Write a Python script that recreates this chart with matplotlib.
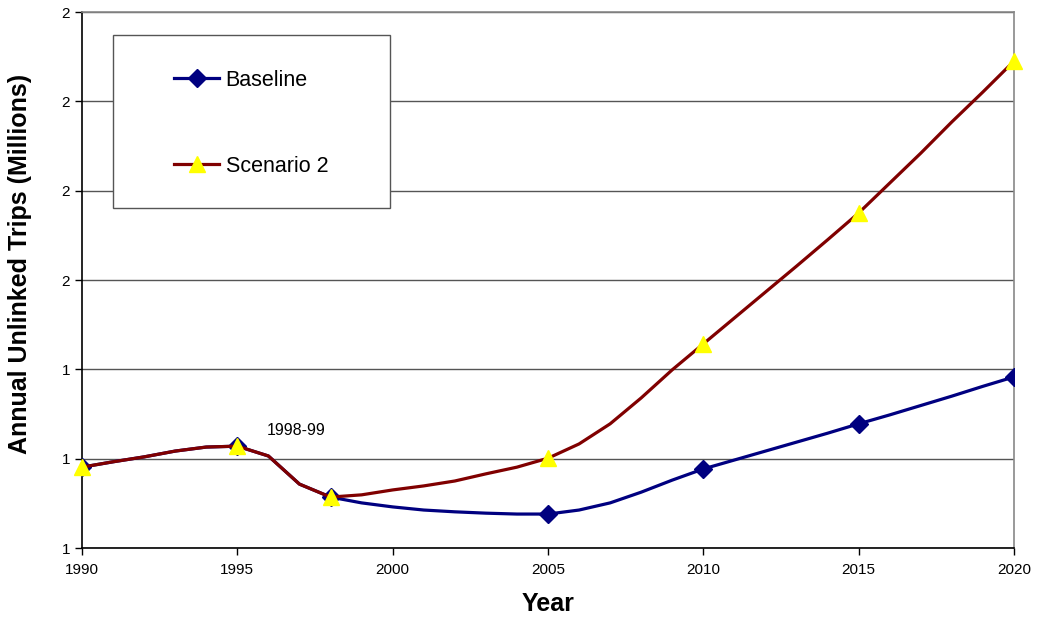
import numpy as np
import matplotlib
matplotlib.use('Agg')
import matplotlib.pyplot as plt
from matplotlib.patches import Rectangle
from matplotlib.lines import Line2D

plt.rcParams['font.family'] = ['Liberation Sans', 'DejaVu Sans']

# annual values (millions of trips)
years = list(range(1990, 2021))
baseline = [1.181, 1.193, 1.204, 1.217, 1.226, 1.228, 1.206, 1.143, 1.114, 1.101,
            1.092, 1.085, 1.081, 1.078, 1.076, 1.076, 1.085, 1.101, 1.125, 1.152,
            1.177, 1.197, 1.217, 1.237, 1.257, 1.278, 1.298, 1.319, 1.340, 1.362,
            1.383]
scenario2 = [1.181, 1.193, 1.204, 1.217, 1.226, 1.228, 1.206, 1.143, 1.114, 1.119,
             1.130, 1.139, 1.150, 1.166, 1.181, 1.201, 1.233, 1.278, 1.336, 1.399,
             1.457, 1.515, 1.573, 1.631, 1.690, 1.750, 1.817, 1.884, 1.954, 2.021,
             2.090]
marker_years = [1990, 1995, 1998, 2005, 2010, 2015, 2020]
x_ticks = [1990, 1995, 2000, 2005, 2010, 2015, 2020]
y_ticks = [1.0, 1.2, 1.4, 1.6, 1.8, 2.0, 2.2]

fig = plt.figure(figsize=(10.37, 6.22), dpi=100)
ax = fig.add_axes([82 / 1037, 74 / 622, 932 / 1037, 536 / 622])

idx = [years.index(y) for y in marker_years]
ax.plot(years, baseline, color='#000080', lw=2.3, solid_joinstyle='round',
        marker='D', markevery=idx, markersize=9, markerfacecolor='#000080',
        markeredgecolor='#000080', zorder=3)
ax.plot(years, scenario2, color='#800000', lw=2.3, solid_joinstyle='round',
        marker='^', markevery=idx, markersize=12, markerfacecolor='#FFFF00',
        markeredgecolor='#FFFF00', zorder=4, clip_on=False)

ax.set_xlim(1990, 2020)
ax.set_ylim(1.0, 2.2)
ax.set_xticks(x_ticks)
ax.set_yticks(y_ticks)
ax.yaxis.set_major_formatter(plt.FuncFormatter(lambda v, p: '{:.0f}'.format(v)))
ax.tick_params(axis='both', labelsize=11, length=5, width=1, direction='out', color='black')
ax.tick_params(axis='x', pad=6)
ax.grid(axis='y', color='#555555', lw=1)
ax.set_axisbelow(True)
for s in ['left', 'bottom']:
    ax.spines[s].set_color('black')
    ax.spines[s].set_linewidth(1.2)
for s in ['top', 'right']:
    ax.spines[s].set_color('#888888')
    ax.spines[s].set_linewidth(1.2)

ax.set_xlabel('Year', fontsize=18, fontweight='bold')
ax.xaxis.set_label_coords(0.5, -(604 - 548) / 536)
ax.xaxis.label.set_va('center')
ax.set_ylabel('Annual Unlinked Trips (Millions)', fontsize=18, fontweight='bold')
ax.yaxis.set_label_coords((20 - 82) / 932, (548 - 264) / 536)
ax.yaxis.label.set_va('center')

ax.text(1995.95, 1.262, '1998-99', fontsize=11.5, va='center', ha='left')

# legend box
box = Rectangle((113 / 1037, 1 - 208 / 622), 277 / 1037, 173 / 622, transform=fig.transFigure,
                facecolor='white', edgecolor='#555555', lw=1, zorder=5)
fig.patches.append(box)
handles = [Line2D([], [], color='#000080', lw=2.3, marker='D', markersize=9),
           Line2D([], [], color='#800000', lw=2.3, marker='^', markersize=12,
                  markerfacecolor='#FFFF00', markeredgecolor='#FFFF00')]
leg = fig.legend(handles, ['Baseline', 'Scenario 2'], loc='upper left',
                 bbox_to_anchor=(174 / 1037, 1 - 70 / 622), frameon=False,
                 fontsize=15.5, handlelength=2.1, handletextpad=0.3, labelspacing=3.0,
                 borderpad=0, borderaxespad=0)
leg.set_zorder(6)

fig.savefig('out.png', dpi=100)
